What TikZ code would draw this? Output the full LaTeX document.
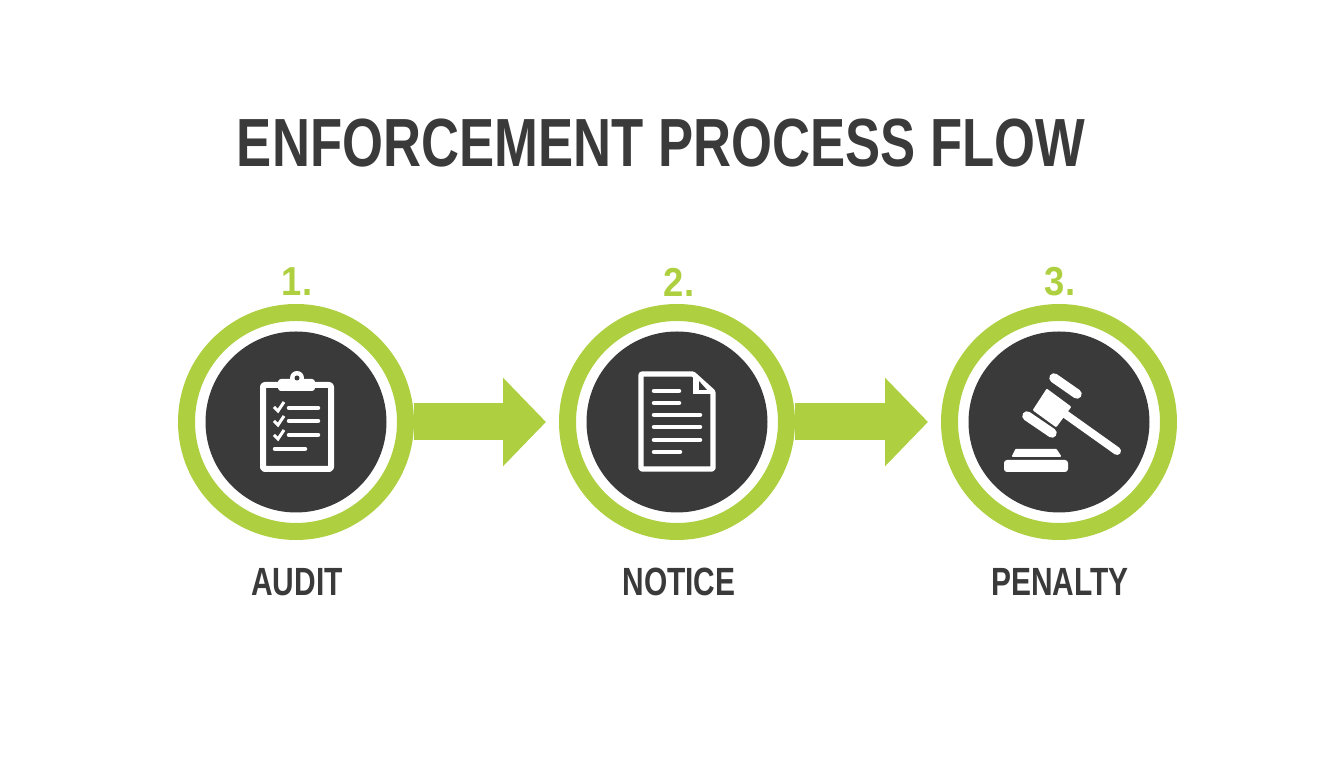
\documentclass[tikz,border=0pt]{standalone}
\usepackage{fontspec}
\setmainfont{Liberation Sans}
\usetikzlibrary{arrows.meta}
\definecolor{lawnlime}{RGB}{174, 208, 64}
\definecolor{charcoal}{RGB}{58, 58, 58}

\tikzset{
    ring/.style={circle, draw=lawnlime, fill=white, line width=0.17cm, minimum size=2.19cm, inner sep=0pt},
    disc/.style={circle, fill=charcoal, minimum size=1.81cm, inner sep=0pt},
    titletext/.style={text=charcoal, font=\bfseries\fontsize{19.4pt}{23pt}\selectfont, xscale=0.772},
    steptext/.style={text=lawnlime, font=\bfseries\fontsize{11.5pt}{14pt}\selectfont, xscale=0.9},
    nametext/.style={text=charcoal, font=\bfseries\fontsize{11.2pt}{14pt}\selectfont, xscale=0.76},
    flowarrow/.style={draw=lawnlime, line width=0.37cm, -{Triangle[length=0.43cm, width=0.86cm]}, shorten >=0.13cm},
    iconline/.style={draw=white, line width=0.045cm, line cap=round},
    iconframe/.style={draw=white, line width=0.06cm, line join=round},
    iconfill/.style={fill=white, draw=white, line width=0.02cm, line join=round}
}

\begin{document}
\begin{tikzpicture}
            \useasboundingbox (0.00, 0.00) rectangle (13.44, 7.68);
            \fill[white] (0.00, 0.00) rectangle (13.44, 7.68);
            % Title
            \node[titletext] (title) at ( 6.61, 6.25) {ENFORCEMENT PROCESS FLOW};
            % Rings
            \node[ring] (ringa) at ( 2.96, 3.46) {};
            \node[ring] (ringb) at ( 6.77, 3.46) {};
            \node[ring] (ringc) at (10.59, 3.46) {};
            \node[disc] (disca) at (ringa.center) {};
            \node[disc] (discb) at (ringb.center) {};
            \node[disc] (discc) at (ringc.center) {};
            % Arrows between rings
            \draw[flowarrow] (ringa.east) -- (ringb.west);
            \draw[flowarrow] (ringb.east) -- (ringc.west);
            % Numbers
            \node[steptext] (numa) at ( 2.97, 4.86) {1.};
            \node[steptext] (numb) at ( 6.79, 4.86) {2.};
            \node[steptext] (numc) at (10.60, 4.86) {3.};
            % Names
            \node[nametext] (namea) at ( 2.97, 1.86) {AUDIT};
            \node[nametext] (nameb) at ( 6.79, 1.86) {NOTICE};
            \node[nametext] (namec) at (10.60, 1.86) {PENALTY};
            % Clipboard
            \begin{scope}[shift={(disca.center)}]
                \draw[iconframe, rounded corners=0.02cm] (-0.33, 0.37) rectangle ( 0.35,-0.47);
                \fill[white, rounded corners=0.03cm] (-0.18, 0.43) rectangle ( 0.19, 0.31);
                \fill[white] ( 0.01, 0.44) circle (0.07);
                \fill[charcoal] ( 0.01, 0.44) circle (0.025);
                \draw[iconline] (-0.07, 0.14) -- ( 0.22, 0.14);
                \draw[iconline] (-0.07, 0.01) -- ( 0.22, 0.01);
                \draw[iconline] (-0.07,-0.13) -- ( 0.22,-0.13);
                \draw[iconline] (-0.21,-0.27) -- ( 0.09,-0.27);
                \draw[iconline, line width=0.03cm, line cap=butt] (-0.22, 0.15) -- (-0.18, 0.11) -- (-0.12, 0.20);
                \draw[iconline, line width=0.03cm, line cap=butt] (-0.22, 0.01) -- (-0.18,-0.03) -- (-0.12, 0.06);
                \draw[iconline, line width=0.03cm, line cap=butt] (-0.22,-0.13) -- (-0.18,-0.17) -- (-0.12,-0.08);
            \end{scope}
            % Document
            \begin{scope}[shift={(discb.center)}]
                \draw[iconframe, line width=0.053cm, rounded corners=0.01cm] ( 0.16, 0.48) -- (-0.36, 0.48) -- (-0.36,-0.47) -- ( 0.36,-0.47) -- ( 0.36, 0.30) -- cycle;
                \fill[white] ( 0.16, 0.48) -- ( 0.16, 0.28) -- ( 0.36, 0.28) -- cycle;
                \fill[charcoal] ( 0.22, 0.41) -- ( 0.22, 0.32) -- ( 0.30, 0.32) -- cycle;
                \draw[iconline] (-0.23, 0.31) -- ( 0.02, 0.31);
                \draw[iconline] (-0.23, 0.19) -- ( 0.02, 0.19);
                \draw[iconline] (-0.23, 0.07) -- ( 0.23, 0.07);
                \draw[iconline] (-0.23,-0.05) -- ( 0.23,-0.05);
                \draw[iconline] (-0.23,-0.18) -- ( 0.23,-0.18);
                \draw[iconline] (-0.23,-0.30) -- ( 0.03,-0.30);
            \end{scope}
            % Gavel
            \begin{scope}[shift={(discc.center)}]
                \fill[iconfill] (-0.12, 0.32) -- ( 0.11, 0.15) -- (-0.03,-0.04) -- (-0.25, 0.12) -- cycle;
                \draw[iconline, line width=0.095cm] (-0.05, 0.44) -- ( 0.18, 0.28);
                \draw[iconline, line width=0.095cm] (-0.32, 0.06) -- (-0.07,-0.11);
                \draw[iconline, line width=0.08cm] ( 0.06, 0.08) -- ( 0.58,-0.29);
                \fill[iconfill] (-0.46,-0.34) -- (-0.43,-0.28) -- (-0.03,-0.28) -- ( 0.01,-0.34) -- cycle;
                \fill[white, rounded corners=0.03cm] (-0.55,-0.38) rectangle ( 0.09,-0.50);
            \end{scope}
        \end{tikzpicture}
\end{document}
